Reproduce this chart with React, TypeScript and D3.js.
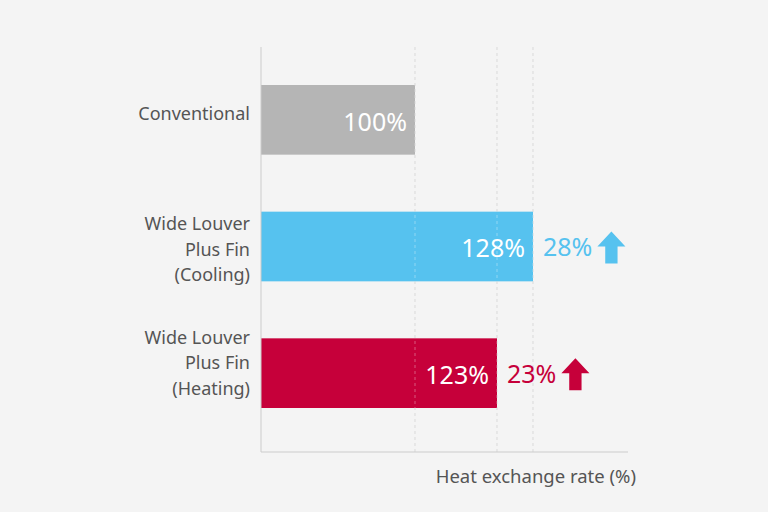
import { useEffect, useRef } from 'react';
import * as d3 from 'd3';

const categories = ['Conventional', 'Wide Louver\nPlus Fin\n(Cooling)', 'Wide Louver\nPlus Fin\n(Heating)'];
const values = [100, 128, 123];
const increases = [null, 28, 23];
const colors = ['#b5b5b5', '#56c2ef', '#c6003a'];
const gridValues = [100, 123, 128];
const axisTitle = 'Heat exchange rate (%)';

const width = 768;
const height = 512;
const font = "'Noto Sans', 'Open Sans', sans-serif";
// small vertical nudges of the category labels, as in the picture
const labelShift = [-6, 3, -10];

export default function App() {
  const svgRef = useRef<SVGSVGElement>(null);

  useEffect(() => {
    document.body.style.margin = '0';
    if (!svgRef.current) return;
    const svg = d3.select(svgRef.current);
    svg.selectAll('*').remove();

    const left = 261;
    const top = 47;
    const bottom = 452;

    // the picture stretches the top of the scale, so the scale is piecewise
    const x = d3.scaleLinear()
      .domain([0, 100, 123, 128])
      .range([left, 415, 497, 533]);

    const y = d3.scaleBand()
      .domain(categories)
      .range([85, 408])
      .paddingInner(0.45)
      .paddingOuter(0);

    svg.append('rect')
      .attr('width', width)
      .attr('height', height)
      .attr('fill', '#f4f4f4');

    // Dashed gridlines
    svg.selectAll('.grid')
      .data(gridValues)
      .enter()
      .append('line')
      .attr('x1', d => x(d))
      .attr('x2', d => x(d))
      .attr('y1', top)
      .attr('y2', bottom)
      .attr('stroke', '#cfcfcf')
      .attr('stroke-width', 1)
      .attr('stroke-dasharray', '3,3');

    // Bars
    svg.selectAll('.bar')
      .data(values)
      .enter()
      .append('rect')
      .attr('x', x(0))
      .attr('y', (d, i) => y(categories[i]) || 0)
      .attr('width', d => x(d) - x(0))
      .attr('height', y.bandwidth())
      .attr('fill', (d, i) => colors[i]);

    // gridlines show faintly over bars
    svg.selectAll('.grid-over')
      .data(gridValues)
      .enter()
      .append('line')
      .attr('x1', d => x(d))
      .attr('x2', d => x(d))
      .attr('y1', top)
      .attr('y2', bottom)
      .attr('stroke', '#ffffff')
      .attr('stroke-opacity', 0.35)
      .attr('stroke-width', 1)
      .attr('stroke-dasharray', '3,3');

    // Axes lines
    svg.append('line')
      .attr('x1', left).attr('x2', left)
      .attr('y1', top).attr('y2', bottom)
      .attr('stroke', '#cccccc');
    svg.append('line')
      .attr('x1', left).attr('x2', 628)
      .attr('y1', bottom).attr('y2', bottom)
      .attr('stroke', '#cccccc');

    // Category labels
    categories.forEach((c, i) => {
      const lines = c.split('\n');
      const cy = (y(c) || 0) + y.bandwidth() / 2 + labelShift[i];
      const lh = 25.5;
      const t = svg.append('text')
        .attr('text-anchor', 'end')
        .attr('font-family', font)
        .attr('font-size', '18px')
        .attr('fill', '#555555');
      lines.forEach((l, j) => {
        t.append('tspan')
          .attr('x', 250)
          .attr('y', cy - ((lines.length - 1) * lh) / 2 + j * lh)
          .attr('dy', '0.35em')
          .text(l);
      });
    });

    // Value labels inside bars
    svg.selectAll('.value')
      .data(values)
      .enter()
      .append('text')
      .attr('x', d => x(d) - 8)
      .attr('y', (d, i) => (y(categories[i]) || 0) + y.bandwidth() / 2 + 2)
      .attr('dy', '0.35em')
      .attr('text-anchor', 'end')
      .attr('font-family', font)
      .attr('font-size', '25px')
      .attr('fill', '#ffffff')
      .text(d => `${d}%`);

    // Increase labels with arrows
    increases.forEach((inc, i) => {
      if (inc == null) return;
      const cy = (y(categories[i]) || 0) + y.bandwidth() / 2 + 1;
      const x0 = x(values[i]) + 10;
      const t = svg.append('text')
        .attr('x', x0)
        .attr('y', cy)
        .attr('dy', '0.35em')
        .attr('font-family', font)
        .attr('font-size', '25px')
        .attr('fill', colors[i])
        .text(`${inc}%`);
      const tw = (t.node() as SVGTextElement).getComputedTextLength();
      const ax = x0 + tw + 5;
      const aw = 28;
      const ah = 32;
      const ay = cy - ah / 2;
      const path = d3.path();
      path.moveTo(ax + aw / 2, ay);
      path.lineTo(ax + aw, ay + 15);
      path.lineTo(ax + aw * 0.72, ay + 15);
      path.lineTo(ax + aw * 0.72, ay + ah);
      path.lineTo(ax + aw * 0.28, ay + ah);
      path.lineTo(ax + aw * 0.28, ay + 15);
      path.lineTo(ax, ay + 15);
      path.closePath();
      svg.append('path')
        .attr('d', path.toString())
        .attr('fill', colors[i]);
    });

    // Axis title
    svg.append('text')
      .attr('x', 636)
      .attr('y', 477)
      .attr('dy', '0.35em')
      .attr('text-anchor', 'end')
      .attr('font-family', font)
      .attr('font-size', '18.5px')
      .attr('fill', '#555555')
      .text(axisTitle);
  }, []);

  return <svg ref={svgRef} width={width} height={height} style={{ display: 'block' }} />;
}
